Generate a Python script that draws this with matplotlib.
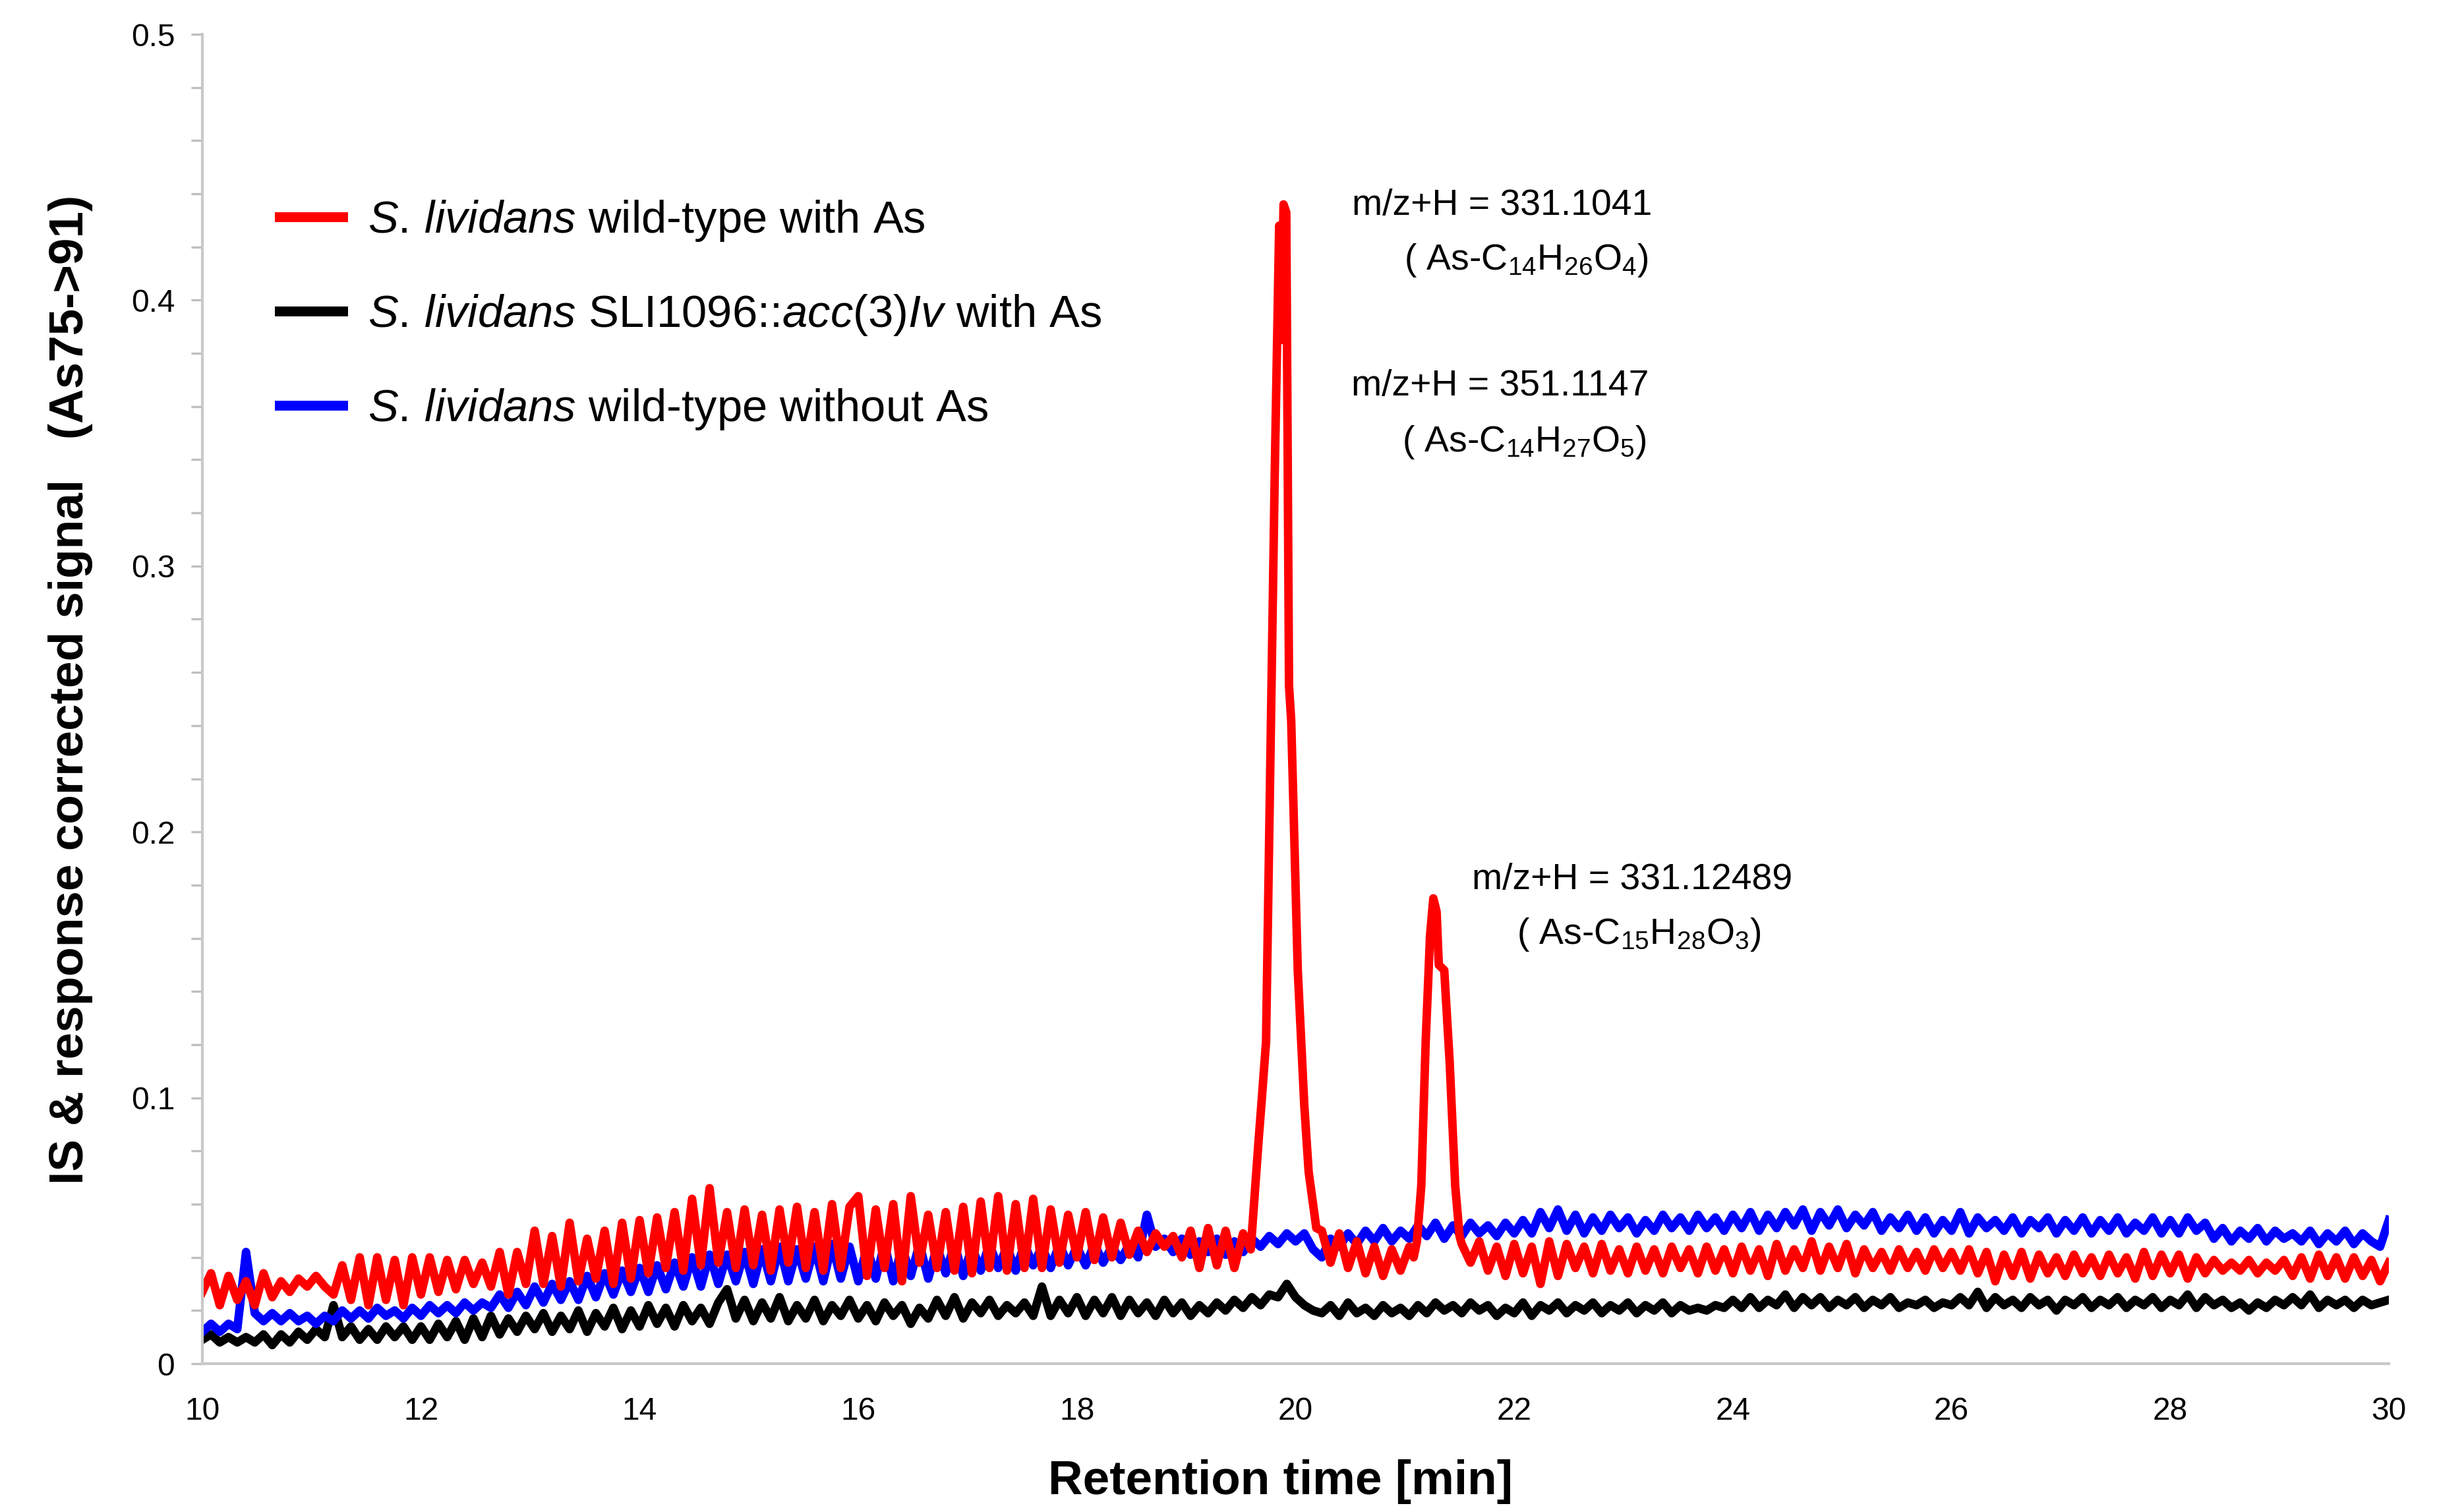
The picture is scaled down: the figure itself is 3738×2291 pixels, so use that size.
"""ICP-MS trace of arsenic species, S. lividans strains (As75->91)."""

import matplotlib
matplotlib.use("Agg", force=True)
import matplotlib.pyplot as plt
import numpy as np

plt.rcParams["font.family"] = ["Liberation Sans", "DejaVu Sans"]
plt.rcParams["mathtext.fontset"] = "custom"
plt.rcParams["mathtext.rm"] = "Liberation Sans"
plt.rcParams["mathtext.it"] = "Liberation Sans:italic"
plt.rcParams["mathtext.bf"] = "Liberation Sans:bold"

nan = np.nan

# sampling grid of the exported traces, minutes (10.00, 10.08, ... 30.00)
time = np.round(10 + 0.08 * np.arange(251), 2)

# signals in units of 0.001, one row per 2 minutes
red_signal = [
    27, 34, 22, 33, 24, 31, 22, 34, 25, 31, 27, 32, 29, 33, 29, 26, 37, 24, 40, 22, 40, 24, 39, 22, 40,
    26, 40, 27, 39, 28, 39, 30, 38, 29, 42, 26, 42, 30, 50, 30, 48, 29, 53, 31, 47, 32, 50, 30, 53, 32,
    54, 34, 55, 36, 57, 35, 62, 37, 66, 38, 57, 36, 58, 37, 56, 35, 58, 38, 59, 36, 57, 35, 60, 36, 59,
    63, 33, 58, 36, 60, 31, 63, 38, 56, 36, 57, 35, 59, 34, 61, 36, 63, 35, 60, 36, 62, 36, 58, 38, 56,
    40, 57, 39, 55, 40, 53, 41, 50, 42, 49, 44, 48, 40, 50, 36, 51, 37, 50, 36, 49, nan, nan, nan, nan, nan,
    nan, nan, nan, 50, 38, 49, 36, 46, 34, 44, 33, 43, 35, 44, nan, nan, nan, nan, nan, 45, 38, 46, 35, 44, 33,
    45, 34, 44, 30, 46, 33, 45, 36, 44, 34, 45, 35, 43, 34, 44, 35, 43, 34, 44, 36, 43, 34, 44, 35, 43,
    34, 44, 35, 43, 33, 45, 35, 43, 36, 46, 35, 44, 36, 45, 34, 43, 36, 42, 35, 43, 36, 42, 35, 43, 36,
    42, 35, 43, 34, 42, 31, 41, 33, 42, 32, 41, 34, 40, 33, 41, 34, 40, 33, 41, 34, 40, 32, 42, 33, 41,
    34, 41, 32, 40, 34, 39, 35, 38, 35, 39, 34, 38, 35, 39, 33, 40, 32, 41, 33, 40, 32, 40, 33, 39, 31, 38,
]
# the two arsenolipid peaks of the red trace, sampled more finely
peak1_time = [19.59, 19.66, 19.69, 19.73, 19.77, 19.81, 19.83, 19.85, 19.87, 19.89, 19.915,
              19.94, 19.96, 20.02, 20.08, 20.12, 20.19]
peak1_signal = [43, 83, 99, 121, 228, 336, 382, 428, 385, 436, 433, 255, 242, 148, 97, 72, 51]
peak2_time = [21.08, 21.11, 21.15, 21.19, 21.23, 21.26, 21.29, 21.31, 21.36, 21.41, 21.46, 21.50]
peak2_signal = [40, 46, 67, 121, 161, 175, 170, 150, 148, 113, 67, 48]

black_signal = [
    9, 11, 8, 10, 8, 10, 8, 11, 7, 11, 8, 12, 9, 13, 10, 22, 10, 14, 9, 13, 9, 14, 10, 14, 9,
    14, 9, 15, 10, 16, 9, 17, 10, 18, 11, 17, 12, 18, 13, 19, 12, 18, 13, 20, 12, 19, 14, 21, 13, 20,
    14, 22, 15, 21, 14, 22, 16, 21, 15, 23, 28, 17, 24, 16, 23, 17, 25, 16, 22, 17, 24, 16, 22, 18, 24,
    17, 22, 16, 23, 18, 22, 15, 21, 17, 24, 18, 25, 17, 23, 19, 24, 18, 22, 19, 23, 18, 29, 18, 24, 19,
    25, 18, 24, 19, 25, 18, 24, 19, 23, 18, 24, 19, 23, 18, 22, 19, 23, 20, 24, 21, 25, 22, 26, 25, 30,
    25, 22, 20, 19, 22, 18, 23, 19, 21, 18, 22, 19, 21, 18, 22, 19, 23, 20, 22, 19, 23, 20, 22, 18, 21,
    19, 23, 18, 22, 20, 23, 19, 22, 20, 23, 19, 22, 20, 23, 19, 22, 20, 23, 19, 22, 20, 21, 20, 22, 21,
    24, 21, 25, 21, 24, 22, 26, 21, 25, 22, 25, 21, 24, 22, 25, 21, 24, 22, 25, 21, 23, 22, 24, 21, 23,
    22, 25, 22, 27, 21, 25, 22, 24, 21, 25, 22, 24, 20, 24, 22, 25, 21, 24, 22, 25, 21, 24, 22, 25, 21,
    24, 22, 26, 21, 25, 22, 24, 21, 23, 20, 23, 21, 24, 22, 25, 22, 26, 21, 24, 22, 24, 21, 24, 22, 23, 24,
]

blue_signal = [
    12, 15, 12, 15, 13, 42, 19, 16, 19, 16, 19, 16, 18, 15, 18, 16, 20, 17, 20, 17, 21, 18, 20, 17, 21,
    18, 22, 19, 22, 19, 23, 20, 23, 21, 26, 21, 27, 22, 29, 23, 30, 24, 31, 24, 33, 25, 34, 26, 35, 27,
    36, 27, 37, 28, 38, 29, 40, 29, 41, 30, 41, 31, 42, 30, 43, 31, 44, 31, 43, 32, 44, 31, 45, 32, 44,
    31, 44, 32, 45, 31, 44, 33, 45, 32, 44, 34, 45, 33, 44, 35, 45, 36, 44, 35, 45, 37, 44, 36, 45, 37,
    44, 37, 45, 38, 44, 39, 45, 40, 56, 44, 47, 42, 47, 41, 46, 42, 47, 41, 46, 42, 47, 44, 48, 45, 49,
    46, 49, 43, 40, 47, 44, 49, 45, 50, 46, 51, 46, 50, 47, 52, 48, 53, 47, 52, 48, 53, 49, 52, 48, 53,
    49, 54, 49, 57, 51, 58, 50, 56, 49, 55, 50, 56, 51, 55, 49, 54, 50, 56, 51, 55, 50, 56, 51, 55, 50,
    56, 51, 57, 50, 56, 51, 57, 52, 58, 50, 57, 52, 58, 51, 56, 52, 57, 50, 55, 51, 56, 50, 55, 49, 54,
    50, 57, 49, 55, 51, 54, 50, 55, 49, 54, 51, 55, 49, 54, 50, 55, 49, 54, 50, 55, 49, 53, 50, 55, 49,
    54, 49, 55, 50, 53, 47, 51, 46, 50, 47, 51, 46, 50, 47, 49, 46, 50, 45, 49, 46, 50, 45, 49, 46, 44, 54,
]

labels = [
    r"$\mathit{S.\,lividans}$ wild-type with As",
    r"$\mathit{S.\,lividans}$ SLI1096::$\mathit{acc(3)Iv}$ with As",
    r"$\mathit{S.\,lividans}$ wild-type without As",
]
x_ticks = [10, 12, 14, 16, 18, 20, 22, 24, 26, 28, 30]
y_ticks = [0, 0.1, 0.2, 0.3, 0.4, 0.5]
y_tick_labels = ["0", "0.1", "0.2", "0.3", "0.4", "0.5"]
annotations = [
    (21.89, 0.4355, "m/z+H = 331.1041"),
    (22.11, 0.4150, r"( As-C$_{14}$H$_{26}$O$_{4}$)"),
    (21.87, 0.3676, "m/z+H = 351.1147"),
    (22.09, 0.3465, r"( As-C$_{14}$H$_{27}$O$_{5}$)"),
    (23.08, 0.1820, "m/z+H = 331.12489"),
    (23.14, 0.1615, r"( As-C$_{15}$H$_{28}$O$_{3}$)"),
]

# red trace: base grid where defined plus the finely sampled peaks
red_base = np.array(red_signal, dtype=float)
keep = ~np.isnan(red_base)
red_time = np.concatenate([time[keep], peak1_time, peak2_time])
red_values = np.concatenate([red_base[keep], peak1_signal, peak2_signal])
order = np.argsort(red_time)
red_time, red_values = red_time[order], red_values[order] / 1000

fig = plt.figure(figsize=(3738 / 300, 2291 / 300), dpi=300)
ax = fig.add_axes([0.0821, 0.0969, 0.8874, 0.8804])

lw = 3.1
l_black, = ax.plot(time, np.array(black_signal) / 1000, color="black", lw=lw, label=labels[1])
l_blue, = ax.plot(time, np.array(blue_signal) / 1000, color="#0000ff", lw=lw, label=labels[2])
l_red, = ax.plot(red_time, red_values, color="#ff0000", lw=lw, label=labels[0])

leg = ax.legend(handles=[l_red, l_black, l_blue], loc="upper left", bbox_to_anchor=(0.0167, 0.907),
                frameon=False, fontsize=16.5, handlelength=1.4, handletextpad=0.55, labelspacing=1.09)
for line in leg.get_lines():
    line.set_linewidth(3.6)

for x, y, txt in annotations:
    ax.text(x, y, txt, ha="center", va="center", fontsize=13.3)

ax.set_xlim(10, 30)
ax.set_ylim(0, 0.5)
ax.set_xticks(x_ticks)
ax.set_yticks(y_ticks)
ax.set_yticklabels(y_tick_labels)
ax.set_yticks(np.round(np.arange(0, 0.51, 0.02), 2), minor=True)
ax.tick_params(axis="y", which="both", direction="out", length=4, width=0.8, color="#bfbfbf",
               pad=6, labelsize=11.5)
ax.tick_params(axis="x", which="both", length=0, pad=12, labelsize=11.5)
for side in ("top", "right"):
    ax.spines[side].set_visible(False)
for side in ("left", "bottom"):
    ax.spines[side].set_color("#c8c8c8")
    ax.spines[side].set_linewidth(1.0)

ax.set_xlabel("Retention time [min]", fontsize=17.5, fontweight="bold")
ax.set_ylabel("IS & response corrected signal   (As75->91)", fontsize=17.5, fontweight="bold")
ax.xaxis.set_label_coords(0.4932, -0.072)
ax.yaxis.set_label_coords(-0.050, 0.507)

fig.savefig("out.png", dpi=300)
plt.close(fig)
